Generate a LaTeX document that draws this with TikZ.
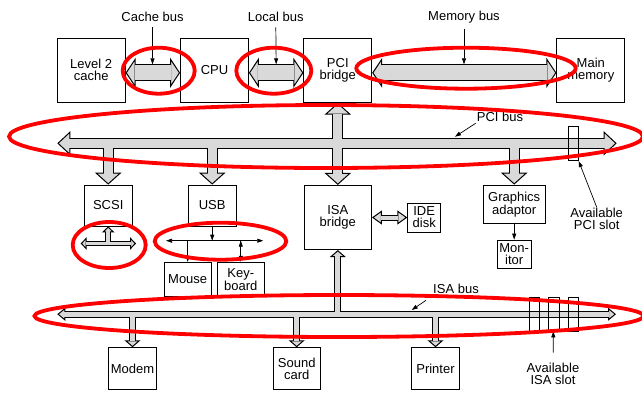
\documentclass[tikz,border=0pt]{standalone}
\usepackage{fontspec}
\setmainfont{Liberation Sans}
\usetikzlibrary{arrows.meta}

\tikzset{
    bigtip/.tip={Triangle[length=10pt, width=30pt, fill=gray!30, line width=1pt]},
    pcitip/.tip={Triangle[length=13pt, width=24pt, fill=gray!30, line width=1pt]},
    brtip/.tip={Triangle[length=12pt, width=26.5pt, fill=gray!30, line width=1pt]},
    isatip/.tip={Triangle[length=8pt, width=13pt, fill=gray!30, line width=1pt]},
    isabr/.tip={Triangle[length=7pt, width=16pt, fill=gray!30, line width=1pt]},
    idetip/.tip={Triangle[length=10pt, width=14pt, fill=gray!30, line width=1pt]},
    scsitip/.tip={Triangle[length=6pt, width=12.5pt, fill=gray!30, line width=1pt]},
    ptip/.tip={Triangle[length=6pt, width=4pt]}
}

\begin{document}
\begin{tikzpicture}[x=1pt, y=-1pt,
    font=\fontsize{13}{12}\selectfont,
    box/.style 2 args={draw, line width=0.8pt, inner sep=0pt, align=center,
        minimum width=#1pt, minimum height=#2pt},
    slot/.style={draw, line width=0.8pt, inner sep=0pt, minimum width=10pt, minimum height=34pt},
    lbl/.style={inner sep=1pt, align=center},
    bus/.style={draw=black, line width=#1},
    busfill/.style={draw=gray!30, line width=#1},
    ptr/.style={line width=0.7pt, -ptip},
    hl/.style={draw=red, line width=3.8pt}]
    \useasboundingbox (0,0) rectangle (642,392);

    % Boxes
    \node (l2) at (91.2,70.3) [box={68}{64}] {Level 2\\cache};
    \node (cpu) at (214.5,70.3) [box={68}{64}] {CPU};
    \node (pcib) at (337.8,70.3) [box={68}{64}] {PCI\\bridge};
    \node (mem) at (590.8,70.3) [box={68}{64}] {Main\\memory};
    \node (scsi) at (108.2,205.5) [box={48}{41}] {SCSI};
    \node (usb) at (212.2,205.5) [box={48}{41}] {USB};
    \node (mouse) at (187.7,279.5) [box={47}{34.5}] {Mouse};
    \node (kbd) at (240.8,279.5) [box={47}{34.5}] {Key-\\board};
    \node (isab) at (337.8,217.5) [box={67.5}{64.4}] {ISA\\bridge};
    \node (ide) at (424.2,217.5) [box={33}{29}] {IDE\\disk};
    \node (gfx) at (514.2,204.2) [box={62}{38.4}] {Graphics\\adaptor};
    \node (mon) at (514.2,254.2) [box={34}{28.4}] {Mon-\\itor};
    \node (modem) at (132.5,368.5) [box={48.4}{41.7}] {Modem};
    \node (sound) at (296.7,368.5) [box={46.7}{41.7}] {Sound\\card};
    \node (printer) at (435.5,368.5) [box={47.7}{41.7}] {Printer};

    % Bus ends
    \coordinate (pcil) at (57.3,143.3);
    \coordinate (pcir) at (616.7,143.3);
    \coordinate (isal) at (57.3,314.2);
    \coordinate (isar) at (616,314.2);
    \coordinate (scsil) at (80.7,243.5);
    \coordinate (scsir) at (136,243.5);
    \coordinate (usbl) at (166,240.7);
    \coordinate (usbr) at (263.3,240.7);

    % Top buses
    \draw[bus=17pt]
        ([yshift=-2.5pt]l2.east) edge[bigtip-bigtip] ([yshift=-2.5pt]cpu.west)
        ([yshift=-2.5pt]cpu.east) edge[bigtip-bigtip] ([yshift=-2.5pt]pcib.west)
        ([yshift=-2.5pt]pcib.east) edge[bigtip-bigtip] ([yshift=-2.5pt]mem.west);
    \draw[busfill=15pt, shorten <=9pt, shorten >=9pt]
        ([yshift=-2.5pt]l2.east) edge ([yshift=-2.5pt]cpu.west)
        ([yshift=-2.5pt]cpu.east) edge ([yshift=-2.5pt]pcib.west)
        ([yshift=-2.5pt]pcib.east) edge ([yshift=-2.5pt]mem.west);

    % PCI bus
    \draw[bus=10.8pt]
        (pcil) edge[pcitip-pcitip] (pcir)
        (pcil -| scsi.north) edge[-brtip] (scsi)
        (pcil -| usb.north) edge[-brtip] (usb)
        (pcil -| gfx.north) edge[-brtip] (gfx)
        (pcib) edge[brtip-brtip] (isab);
    \draw[busfill=8.8pt]
        (pcil) edge[shorten <=12pt, shorten >=12pt] (pcir)
        (pcil -| scsi.north) edge[shorten >=11pt] (scsi)
        (pcil -| usb.north) edge[shorten >=11pt] (usb)
        (pcil -| gfx.north) edge[shorten >=11pt] (gfx)
        (pcib) edge[shorten <=11pt, shorten >=11pt] (isab);

    % ISA bus
    \draw[bus=7pt]
        (isal) edge[isatip-isatip] (isar)
        (isal -| isab.south) edge[-isabr] (isab)
        (isal -| modem.north) edge[-isabr] (modem)
        (isal -| sound.north) edge[-isabr] (sound)
        (isal -| printer.north) edge[-isabr] (printer);
    \draw[bus=6pt]
        (isab) edge[idetip-idetip] (ide);
    \draw[busfill=5pt]
        (isal) edge[shorten <=7pt, shorten >=7pt] (isar)
        (isal -| isab.south) edge[shorten >=6pt] (isab)
        (isal -| modem.north) edge[shorten >=6pt] (modem)
        (isal -| sound.north) edge[shorten >=6pt] (sound)
        (isal -| printer.north) edge[shorten >=6pt] (printer);
    \draw[busfill=4pt]
        (isab) edge[shorten <=9pt, shorten >=9pt] (ide);

    % SCSI bus
    \draw[bus=5.6pt]
        (scsil) edge[scsitip-scsitip] (scsir)
        (scsil -| scsi.south) edge[-scsitip] (scsi);
    \draw[busfill=3.6pt]
        (scsil) edge[shorten <=5pt, shorten >=5pt] (scsir)
        (scsil -| scsi.south) edge[shorten >=5pt] (scsi);

    % Slots
    \node (pcislot) at (573.3,143.7) [slot] {};
    \node (isaslot1) at (534,314) [slot] {};
    \node (isaslot2) at (553.5,314) [slot, minimum width=11pt] {};
    \node (isaslot3) at (573,314) [slot] {};

    % Labels
    \node (cachelbl) at (152.5,17.3) [lbl] {Cache bus};
    \node (locallbl) at (275.7,17.3) [lbl] {Local bus};
    \node (memlbl) at (464,17.3) [lbl] {Memory bus};
    \node (pcilbl) at (500,117.3) [lbl] {PCI bus};
    \node (isalbl) at (456,289.3) [lbl] {ISA bus};
    \node (pcislotlbl) at (596.7,219.2) [lbl] {Available\\PCI slot};
    \node (isaslotlbl) at (553,373.5) [lbl] {Available\\ISA slot};

    \coordinate (cacheptr) at (152.5,64.3);
    \coordinate (localptr) at (276.2,64.3);
    \coordinate (memptr) at (464,64.3);
    \coordinate (pciptr) at (455,136.7);
    \coordinate (isaptr) at (411.7,310);

    % pointers and thin arrows
    \draw[ptr]
        (cachelbl) edge[shorten <=4pt] (cacheptr)
        (locallbl) edge[shorten <=4pt] (localptr)
        (memlbl) edge[shorten <=4pt] (memptr)
        (pcilbl.south west) edge (pciptr)
        ([shift={(-6pt,-5pt)}]isalbl.south west) edge (isaptr)
        (pcislotlbl.north) edge (pcislot.south east)
        (isaslotlbl) edge[shorten <=9pt] (isaslot2)
        (usb) edge (usb |- usbl)
        (usbl) edge[ptip-ptip] (usbr)
        (usbl -| mouse.north) edge (mouse)
        (usbl -| kbd.north) edge (kbd)
        (gfx) edge (mon);

    % red marks
    \draw[hl] (158.7,70.7) ellipse [x radius=36pt, y radius=23pt];
    \draw[hl] (273.8,70.7) ellipse [x radius=37.5pt, y radius=23pt];
    \draw[hl] (466,68.2) ellipse [x radius=109.7pt, y radius=20.5pt];
    \draw[hl] (326,136.5) ellipse [x radius=317pt, y radius=31.5pt];
    \draw[hl] (109.2,245) ellipse [x radius=36.5pt, y radius=23pt];
    \draw[hl] (220.5,241.2) ellipse [x radius=65.8pt, y radius=18.5pt];
    \draw[hl] (339,316) ellipse [x radius=304.5pt, y radius=21pt];

\end{tikzpicture}
\end{document}
